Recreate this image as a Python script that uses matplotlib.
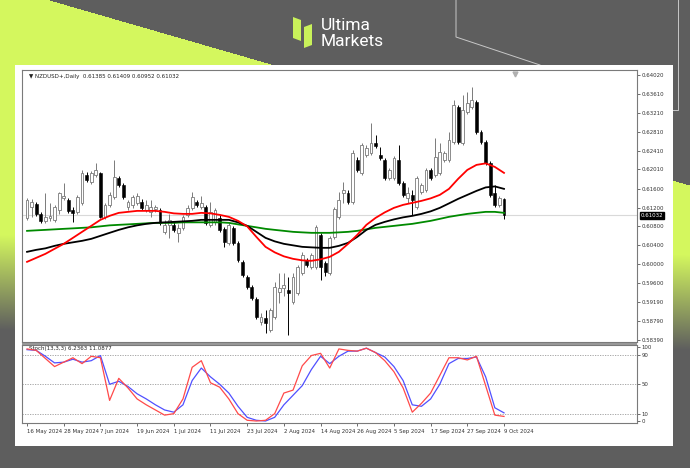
import numpy as np
import matplotlib
matplotlib.use("Agg")
import matplotlib.pyplot as plt
import matplotlib.transforms as mtransforms
from matplotlib.patches import Rectangle, Polygon

# ---------------- data ----------------
dates = ["16 May 2024", "28 May 2024", "7 Jun 2024", "19 Jun 2024", "1 Jul 2024",
         "11 Jul 2024", "23 Jul 2024", "2 Aug 2024", "14 Aug 2024", "26 Aug 2024",
         "5 Sep 2024", "17 Sep 2024", "27 Sep 2024", "9 Oct 2024"]

opens = [0.60981, 0.61215, 0.61279, 0.61066, 0.60917, 0.60981, 0.60939, 0.61151, 0.61407, 0.61364,
         0.61151, 0.61109, 0.61300, 0.61895, 0.61746, 0.61895, 0.61938, 0.61002, 0.61258, 0.61428,
         0.61832, 0.61683, 0.61215, 0.61258, 0.61300, 0.61321, 0.61151, 0.61109, 0.61173, 0.61151,
         0.60684, 0.60832, 0.60832, 0.60662, 0.60768, 0.61045, 0.61194, 0.61321, 0.61215, 0.61215,
         0.60832, 0.60896, 0.60981, 0.60747, 0.60449, 0.60768, 0.60449, 0.60046, 0.59727, 0.59515,
         0.59260, 0.58771, 0.58856, 0.58602, 0.58878, 0.59409, 0.59494, 0.59451, 0.59196, 0.59388,
         0.59812, 0.60089, 0.59939, 0.59939, 0.60620, 0.60025, 0.59812, 0.60577, 0.61002, 0.61513,
         0.61513, 0.61321, 0.62214, 0.61938, 0.62320, 0.62363, 0.62575, 0.62320, 0.62214, 0.61832,
         0.61832, 0.62214, 0.61725, 0.61407, 0.61470, 0.61215, 0.61534, 0.61577, 0.62002, 0.61895,
         0.61938, 0.62214, 0.62214, 0.62597, 0.63340, 0.62575, 0.63234, 0.63340, 0.63447, 0.62809,
         0.62597, 0.62150, 0.61513, 0.61258, 0.61385]
highs = [0.61407, 0.61385, 0.61321, 0.61109, 0.61513, 0.61300, 0.61258, 0.61534, 0.61725, 0.61407,
         0.61215, 0.61470, 0.62002, 0.61959, 0.61980, 0.62150, 0.61959, 0.61300, 0.61534, 0.62214,
         0.61874, 0.61725, 0.61364, 0.61470, 0.61513, 0.61385, 0.61364, 0.61364, 0.61258, 0.61194,
         0.60939, 0.61066, 0.60896, 0.60853, 0.61045, 0.61258, 0.61534, 0.61364, 0.61449, 0.61258,
         0.61321, 0.61194, 0.61045, 0.60789, 0.60875, 0.60811, 0.60492, 0.60089, 0.59769, 0.59558,
         0.59303, 0.58963, 0.59027, 0.59069, 0.59621, 0.59812, 0.59812, 0.59727, 0.59812, 0.59982,
         0.60258, 0.60130, 0.60236, 0.60832, 0.60662, 0.60067, 0.60598, 0.61215, 0.61534, 0.61746,
         0.61577, 0.62427, 0.62278, 0.62575, 0.62533, 0.63000, 0.62745, 0.62490, 0.62256, 0.62044,
         0.62299, 0.62533, 0.61768, 0.61640, 0.61577, 0.61874, 0.61725, 0.62044, 0.62044, 0.62682,
         0.62575, 0.62405, 0.62809, 0.63489, 0.63383, 0.63595, 0.63659, 0.63765, 0.63489, 0.62852,
         0.62639, 0.62193, 0.61683, 0.61449, 0.61409]
lows = [0.60939, 0.61002, 0.61024, 0.60875, 0.60875, 0.60917, 0.60896, 0.61066, 0.61364, 0.61087,
        0.60896, 0.61066, 0.61258, 0.61746, 0.61704, 0.61853, 0.60981, 0.60960, 0.61215, 0.61385,
        0.61640, 0.61385, 0.61151, 0.61194, 0.61258, 0.61151, 0.61109, 0.61002, 0.61109, 0.60832,
        0.60641, 0.60556, 0.60684, 0.60470, 0.60726, 0.61002, 0.61151, 0.61215, 0.61173, 0.60832,
        0.60789, 0.60832, 0.60684, 0.60364, 0.60407, 0.60407, 0.60046, 0.59727, 0.59472, 0.59239,
        0.58835, 0.58707, 0.58538, 0.58559, 0.58835, 0.59175, 0.59324, 0.58495, 0.59154, 0.59345,
        0.59769, 0.59939, 0.59897, 0.59897, 0.59664, 0.59748, 0.59769, 0.60534, 0.60960, 0.61300,
        0.61279, 0.61279, 0.61959, 0.61895, 0.62278, 0.62320, 0.62469, 0.62214, 0.61789, 0.61789,
        0.61789, 0.61683, 0.61428, 0.61300, 0.61045, 0.61173, 0.61492, 0.61534, 0.61789, 0.61853,
        0.61895, 0.62172, 0.62172, 0.62554, 0.62554, 0.62533, 0.63191, 0.63298, 0.62767, 0.62554,
        0.62108, 0.61428, 0.61215, 0.61215, 0.60952]
closes = [0.61364, 0.61321, 0.61066, 0.60917, 0.61002, 0.61024, 0.61215, 0.61513, 0.61449, 0.61130,
          0.61087, 0.61428, 0.61938, 0.61789, 0.61938, 0.62002, 0.61002, 0.61258, 0.61470, 0.61853,
          0.61683, 0.61428, 0.61321, 0.61428, 0.61449, 0.61194, 0.61258, 0.61215, 0.61215, 0.60875,
          0.60832, 0.60939, 0.60726, 0.60768, 0.61002, 0.61194, 0.61428, 0.61258, 0.61300, 0.60875,
          0.61109, 0.61151, 0.60726, 0.60470, 0.60832, 0.60449, 0.60089, 0.59769, 0.59515, 0.59281,
          0.58878, 0.58878, 0.58750, 0.59027, 0.59515, 0.59494, 0.59558, 0.59388, 0.59727, 0.59939,
          0.60194, 0.59982, 0.60194, 0.60789, 0.59939, 0.59833, 0.60556, 0.61173, 0.61364, 0.61577,
          0.61321, 0.62363, 0.62002, 0.62533, 0.62469, 0.62575, 0.62512, 0.62256, 0.61832, 0.62002,
          0.62256, 0.61725, 0.61470, 0.61513, 0.61364, 0.61832, 0.61683, 0.62002, 0.61832, 0.62278,
          0.62384, 0.62363, 0.62639, 0.63383, 0.62597, 0.63276, 0.63425, 0.63489, 0.62809, 0.62597,
          0.62150, 0.61470, 0.61258, 0.61407, 0.61032]

ma_step = 2
ma_red = [0.60046, 0.60131, 0.60216, 0.60323, 0.60429, 0.60556, 0.60684, 0.60811, 0.60939, 0.61024,
          0.61088, 0.61109, 0.61130, 0.61130, 0.61130, 0.61109, 0.61077, 0.61066, 0.61066, 0.61088,
          0.61077, 0.61045, 0.61003, 0.60918, 0.60801, 0.60577, 0.60365, 0.60248, 0.60163, 0.60110,
          0.60078, 0.60068, 0.60099, 0.60152, 0.60259, 0.60429, 0.60620, 0.60833, 0.60981, 0.61098,
          0.61194, 0.61258, 0.61300, 0.61343, 0.61396, 0.61470, 0.61598, 0.61811, 0.62001, 0.62108,
          0.62140, 0.62065, 0.61938]
ma_black = [0.60259, 0.60301, 0.60333, 0.60386, 0.60429, 0.60461, 0.60493, 0.60535, 0.60599, 0.60663,
            0.60726, 0.60780, 0.60822, 0.60854, 0.60875, 0.60886, 0.60896, 0.60907, 0.60918, 0.60939,
            0.60939, 0.60939, 0.60939, 0.60886, 0.60811, 0.60684, 0.60556, 0.60482, 0.60429, 0.60397,
            0.60365, 0.60354, 0.60344, 0.60344, 0.60386, 0.60450, 0.60577, 0.60726, 0.60833, 0.60896,
            0.60949, 0.60992, 0.61024, 0.61066, 0.61120, 0.61194, 0.61289, 0.61385, 0.61470, 0.61555,
            0.61629, 0.61650, 0.61598]
ma_green = [0.60705, 0.60716, 0.60726, 0.60737, 0.60748, 0.60758, 0.60769, 0.60780, 0.60801, 0.60822,
            0.60833, 0.60843, 0.60854, 0.60865, 0.60875, 0.60875, 0.60875, 0.60886, 0.60886, 0.60886,
            0.60886, 0.60886, 0.60875, 0.60843, 0.60811, 0.60780, 0.60748, 0.60726, 0.60705, 0.60684,
            0.60673, 0.60663, 0.60663, 0.60663, 0.60673, 0.60684, 0.60705, 0.60737, 0.60769, 0.60790,
            0.60811, 0.60833, 0.60854, 0.60886, 0.60918, 0.60960, 0.61003, 0.61035, 0.61066, 0.61088,
            0.61109, 0.61109, 0.61088]

st_step = 2
stoch_main = [98, 96, 85, 74, 80, 86, 78, 88, 86, 28,
              58, 45, 30, 22, 15, 8, 10, 30, 73, 82,
              52, 46, 30, 10, 1, 0, 1, 10, 38, 42,
              75, 89, 92, 72, 98, 96, 95, 99, 93, 82,
              67, 45, 12, 24, 38, 62, 86, 86, 83, 88,
              48, 8, 6.2363]
stoch_signal = [97, 96, 88, 79, 80, 84, 80, 82, 89, 50,
                54, 47, 37, 30, 22, 15, 12, 22, 55, 72,
                60, 50, 38, 20, 5, 1, 0, 5, 22, 35,
                48, 70, 88, 78, 88, 95, 95, 99, 93, 87,
                74, 55, 22, 20, 30, 50, 78, 85, 85, 87,
                60, 18, 11.0877]

price_ticks = [0.64020, 0.63610, 0.63210, 0.62810, 0.62410, 0.62010, 0.61600, 0.61200,
               0.60800, 0.60400, 0.60000, 0.59600, 0.59190, 0.58790, 0.58390]
stoch_ticks = [0, 10, 50, 90, 100]
last_price = 0.61032
title_text = "\u25BC NZDUSD+,Daily  0.61385 0.61409 0.60952 0.61032"
stoch_text = "Stoch(13,3,3) 6.2363 11.0877"

# ---------------- figure ----------------
W, H = 690, 468
fig = plt.figure(figsize=(W / 100, H / 100), dpi=100)

bg = fig.add_axes([0, 0, 1, 1])
bg.set_xlim(0, W)
bg.set_ylim(H, 0)
bg.axis("off")

grey = np.array([0x5e, 0x5e, 0x5e]) / 255
lime = np.array([0xd4, 0xf7, 0x5e]) / 255
X, Y = np.meshgrid(np.arange(W) + 0.5, np.arange(H) + 0.5)
upper = 0.289 * (X - 48)
lower = 235 + 20 * X / W
a = np.clip(1 - (Y - lower) / 95, 0, 1)
a = np.where(Y >= upper, a, 0)
img = grey[None, None, :] * (1 - a[..., None]) + lime[None, None, :] * a[..., None]
bg.imshow(img, extent=[0, W, H, 0], aspect="auto", interpolation="bilinear", zorder=0)

# decorative thin lines
bg.plot([456, 456, 540], [0, 37, 65], color="#c8c8c8", lw=0.7, zorder=1)
bg.plot([678, 678, 672], [0, 110, 110], color="#c8c8c8", lw=0.7, zorder=1)

# white card
bg.add_patch(Rectangle((15, 65), 658, 381, facecolor="white", edgecolor="none", zorder=2))
# panel separator
bg.add_patch(Rectangle((22, 341.5), 615, 3, facecolor="#9a9a9a", edgecolor="none", zorder=3))

# logo
bg.add_patch(Polygon([[293, 17], [301, 20], [301, 41], [293, 38]], closed=True,
                     facecolor="#c9f25a", edgecolor="none", zorder=3))
bg.add_patch(Polygon([[304, 27], [312, 24], [312, 45], [304, 48]], closed=True,
                     facecolor="#c9f25a", edgecolor="none", zorder=3))
bg.text(321, 25, "Ultima", color="white", fontsize=12.5, family="Roboto",
        va="center", ha="left", zorder=3)
bg.text(321, 42, "Markets", color="white", fontsize=12.5, family="Roboto",
        va="center", ha="left", zorder=3)

# ---------------- main chart ----------------
x0, x1 = 22, 637
ax = fig.add_axes([x0 / W, (H - 341.5) / H, (x1 - x0) / W, (341.5 - 70) / H], zorder=5)
ax2 = fig.add_axes([x0 / W, (H - 423) / H, (x1 - x0) / W, (423 - 344.5) / H], zorder=5)

o = np.array(opens); h = np.array(highs); l = np.array(lows); c = np.array(closes)
n = len(c)
xs = np.arange(n)
up = c >= o

ax.axhline(last_price, color="#d9d9d9", lw=0.8, zorder=1)
ax.vlines(xs[up], l[up], h[up], color="#7a7a7a", lw=0.7, zorder=2)
ax.vlines(xs[~up], l[~up], h[~up], color="black", lw=0.7, zorder=2)
body_up = np.maximum(c[up] - o[up], 0.00004)
ax.bar(xs[up], body_up, bottom=o[up], width=0.62, facecolor="white",
       edgecolor="#7a7a7a", linewidth=0.6, zorder=3)
body_dn = np.maximum(o[~up] - c[~up], 0.00004)
ax.bar(xs[~up], body_dn, bottom=c[~up], width=0.62, facecolor="black",
       edgecolor="black", linewidth=0.4, zorder=3)

xm = np.arange(0, n, ma_step)
ax.plot(xm, ma_green, color="#008a00", lw=1.3, zorder=4, solid_joinstyle="round")
ax.plot(xm, ma_black, color="black", lw=1.3, zorder=4, solid_joinstyle="round")
ax.plot(xm, ma_red, color="#ff0000", lw=1.3, zorder=4, solid_joinstyle="round")

xlim = (-1.1, 133.0)
ax.set_xlim(*xlim)
ax.set_ylim(0.58352, 0.64126)
ax.set_xticks([])
ax.yaxis.tick_right()
ax.set_yticks(price_ticks)
ax.set_yticklabels([f"{v:.5f}" for v in price_ticks])
ax.tick_params(axis="y", length=2, width=0.5, pad=1.5, labelsize=3.9, colors="#333333")
for s in ax.spines.values():
    s.set_color("#7a7a7a")
    s.set_linewidth(0.8)

ax.text(0.012, 0.985, title_text, transform=ax.transAxes, fontsize=4.0,
        ha="left", va="top", color="#222222")
trans = mtransforms.blended_transform_factory(ax.transAxes, ax.transData)
ax.text(1.006, last_price, "0.61032", transform=trans, fontsize=3.9, color="white",
        ha="left", va="center", zorder=10, clip_on=False,
        bbox=dict(boxstyle="square,pad=0.15", facecolor="black", edgecolor="black"))
ax.plot([(515 - x0) / (x1 - x0)], [0.985], marker="v", color="#b0b0b0",
        markersize=3.5, transform=ax.transAxes, clip_on=False)

# ---------------- stochastic ----------------
xst = np.arange(0, n, st_step)
for lvl in (10, 50, 90):
    ax2.axhline(lvl, color="#9a9a9a", lw=0.6, ls=(0, (1.5, 1.5)), zorder=1)
ax2.plot(xst, stoch_signal, color="#5050ff", lw=0.9, zorder=3)
ax2.plot(xst, stoch_main, color="#ff4a4a", lw=0.9, zorder=4)
ax2.set_xlim(*xlim)
ax2.set_ylim(-2.7, 104)
ax2.yaxis.tick_right()
ax2.set_yticks(stoch_ticks)
ax2.set_yticklabels([str(v) for v in stoch_ticks])
ax2.tick_params(axis="y", length=2, width=0.5, pad=1.5, labelsize=3.9, colors="#333333")
ax2.set_xticks(np.arange(0, n, 8))
ax2.set_xticklabels(dates, ha="left")
ax2.tick_params(axis="x", length=2.5, width=0.5, pad=2, labelsize=3.9, colors="#333333")
for s in ax2.spines.values():
    s.set_color("#7a7a7a")
    s.set_linewidth(0.8)
ax2.text(0.012, 0.985, stoch_text, transform=ax2.transAxes, fontsize=4.0,
         ha="left", va="top", color="#222222")

fig.savefig("out.png", dpi=100, facecolor="#5e5e5e")
